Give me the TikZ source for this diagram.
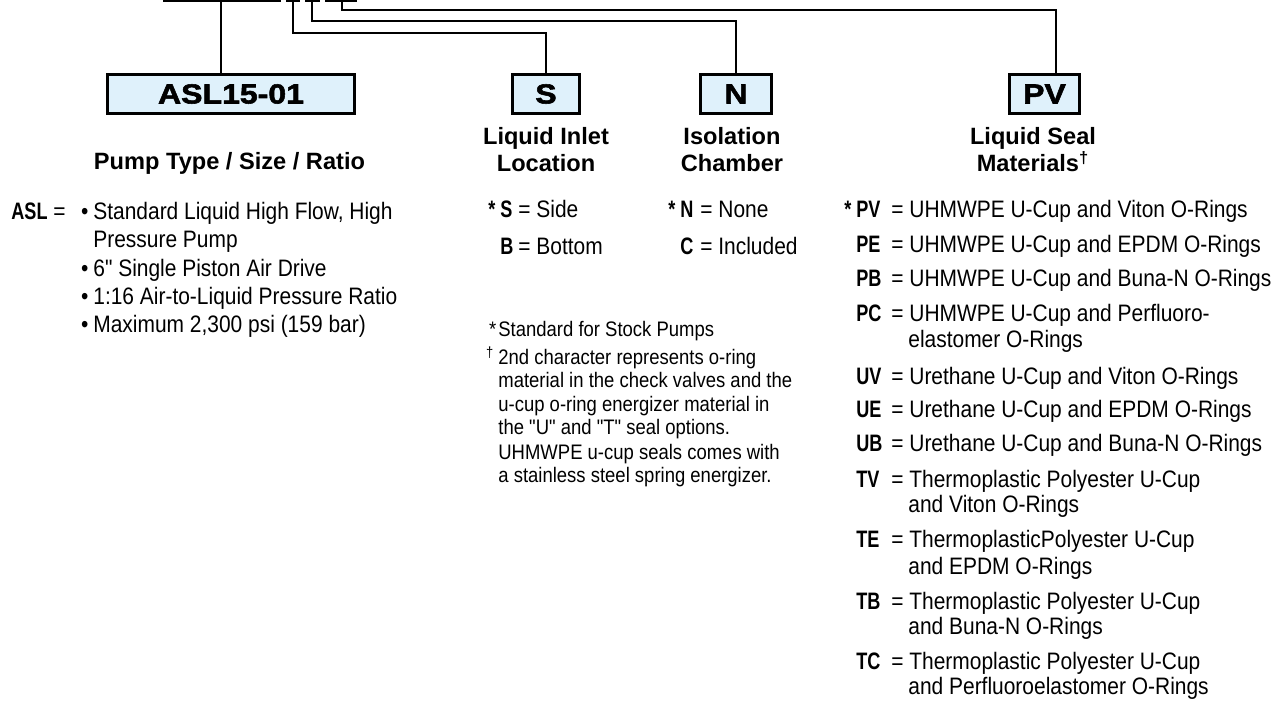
\documentclass[tikz,border=0pt]{standalone}
\usepackage{fontspec}
\setmainfont{Liberation Sans}
\newfontfamily\condfont{Liberation Sans}[FakeStretch=0.88]
\newfontfamily\codefont{Liberation Sans}[FakeStretch=0.76]
\newfontfamily\blackfont{Liberation Sans}[FakeStretch=1.16,FakeBold=2]
\definecolor{boxblue}{HTML}{DFF1FB}
\newcommand{\std}{\llap{{\codefont\bfseries *}\hspace{2.5pt}}}
\newcommand{\entry}[3]{\makebox[#1][l]{\codefont\bfseries #2}\makebox[9pt][l]{=}#3}

\begin{document}
\begin{tikzpicture}[x=0.5pt,y=-0.5pt]
\tikzstyle{every node}+=[inner sep=0pt]
\tikzstyle{wire}=[line width=1pt]
\tikzstyle{codebox}=[draw, line width=1.5pt, fill=boxblue, minimum height=19.5pt, font=\blackfont\bfseries\fontsize{13.8}{16}\selectfont]
\tikzstyle{head}=[anchor=base, font=\bfseries\fontsize{11.8}{14}\selectfont]
\tikzstyle{item}=[anchor=base west, font=\condfont\fontsize{11.9}{14}\selectfont]
\tikzstyle{note}=[anchor=base west, font=\condfont\fontsize{10.5}{12}\selectfont]
\useasboundingbox (0,0) rectangle (1285,704);

% underlines of the model code
\fill (163,-3) rectangle (281,2.5);
\fill (286,-3) rectangle (300,2.5);
\fill (305,-3) rectangle (320,2.5);
\fill (325,-3) rectangle (357,2.5);
\coordinate (tapA) at (221,2);
\coordinate (tapS) at (293,2);
\coordinate (tapN) at (312,2);
\coordinate (tapP) at (342,2);

% code boxes
\node[codebox, minimum width=123.5pt] (asl) at (231,94) {ASL15-01};
\node[codebox, minimum width=33.5pt] (sbox) at (546,94) {S};
\node[codebox, minimum width=35.5pt] (nbox) at (736,94) {N};
\node[codebox, minimum width=35pt] (pvbox) at (1044.5,94) {PV};

\draw[wire] (tapA) -- (tapA |- asl.north);
\draw[wire] (tapS) -- ++(0,31) -| (sbox.north);
\draw[wire] (tapN) -- ++(0,19) -| (nbox.north);
\draw[wire] (tapP) -- ++(0,8) -| ([xshift=5.75pt]pvbox.north);

% pump type
\node[head] (asllab) at (229.5,170) {Pump Type / Size / Ratio};
\node[item] (aslkey) at (11,220) {{\codefont\bfseries ASL} =};
\node[item] (asl1) at (93,220) {\llap{•\hspace{2.5pt}}Standard Liquid High Flow, High};
\node[item] (asl1b) at (93,248) {Pressure Pump};
\node[item] (asl2) at (93,277) {\llap{•\hspace{2.5pt}}6" Single Piston Air Drive};
\node[item] (asl3) at (93,305) {\llap{•\hspace{2.5pt}}1:16 Air-to-Liquid Pressure Ratio};
\node[item] (asl4) at (93,333) {\llap{•\hspace{2.5pt}}Maximum 2,300 psi (159 bar)};

% inlet and chamber
\node[head] (slab1) at (546,145) {Liquid Inlet};
\node[head] (slab2) at (546,172) {Location};
\node[item] (sside) at (500,218) {\std\entry{9pt}{S}{Side}};
\node[item] (sbot) at (500,255) {\entry{9pt}{B}{Bottom}};
\node[head] (nlab1) at (732,145) {Isolation};
\node[head] (nlab2) at (732,172) {Chamber};
\node[item] (nnone) at (680,218) {\std\entry{10pt}{N}{None}};
\node[item] (ninc) at (680,255) {\entry{10pt}{C}{Included}};

% notes
\node[note] (stdnote) at (498,337) {\llap{*\hspace{1pt}}Standard for Stock Pumps};
\node[note] (dag1) at (498,365) {\llap{\textsuperscript{†}\hspace{2pt}}2nd character represents o-ring};
\node[note] (dag2) at (498,388) {material in the check valves and the};
\node[note] (dag3) at (498,412) {u-cup o-ring energizer material in};
\node[note] (dag4) at (498,435) {the "U" and "T" seal options.};
\node[note] (dag5) at (498,460) {UHMWPE u-cup seals comes with};
\node[note] (dag6) at (498,483) {a stainless steel spring energizer.};

% seal materials
\node[head] (pvlab1) at (1033,145) {Liquid Seal};
\node[head] (pvlab2) at (1033,172) {Materials\textsuperscript{†}};
\node[item] (pv) at (856,218) {\std\entry{17.5pt}{PV}{UHMWPE U-Cup and Viton O-Rings}};
\node[item] (pe) at (856,253) {\entry{17.5pt}{PE}{UHMWPE U-Cup and EPDM O-Rings}};
\node[item] (pb) at (856,287) {\entry{17.5pt}{PB}{UHMWPE U-Cup and Buna-N O-Rings}};
\node[item] (pc) at (856,322) {\entry{17.5pt}{PC}{UHMWPE U-Cup and Perfluoro-}};
\node[item] (pc2) at (908,348) {elastomer O-Rings};
\node[item] (uv) at (856,385) {\entry{17.5pt}{UV}{Urethane U-Cup and Viton O-Rings}};
\node[item] (ue) at (856,418) {\entry{17.5pt}{UE}{Urethane U-Cup and EPDM O-Rings}};
\node[item] (ub) at (856,452) {\entry{17.5pt}{UB}{Urethane U-Cup and Buna-N O-Rings}};
\node[item] (tv) at (856,488) {\entry{17.5pt}{TV}{Thermoplastic Polyester U-Cup}};
\node[item] (tv2) at (908,513) {and Viton O-Rings};
\node[item] (te) at (856,548) {\entry{17.5pt}{TE}{ThermoplasticPolyester U-Cup}};
\node[item] (te2) at (908,575) {and EPDM O-Rings};
\node[item] (tb) at (856,610) {\entry{17.5pt}{TB}{Thermoplastic Polyester U-Cup}};
\node[item] (tb2) at (908,635) {and Buna-N O-Rings};
\node[item] (tc) at (856,670) {\entry{17.5pt}{TC}{Thermoplastic Polyester U-Cup}};
\node[item] (tc2) at (908,695) {and Perfluoroelastomer O-Rings};
\end{tikzpicture}
\end{document}
